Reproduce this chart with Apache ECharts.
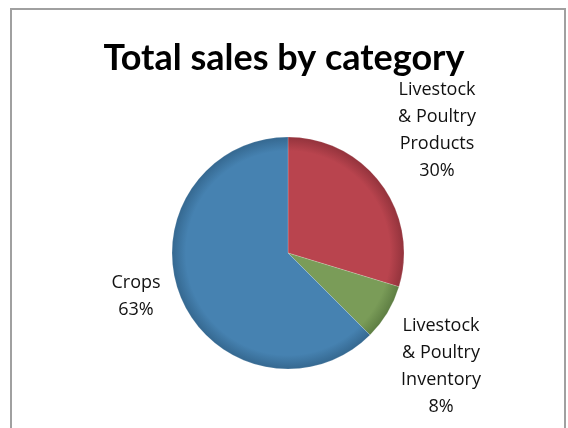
<!DOCTYPE html>
<html>
<head>
<meta charset="utf-8">
<script src="https://cdn.jsdelivr.net/npm/echarts@6/dist/echarts.min.js"></script>
<style>
html,body{margin:0;padding:0;background:#fff;}
#chart{width:568px;height:428px;}
</style>
</head>
<body>
<div id="chart"></div>
<script>
var titleText = 'Total sales by category';
var categories = ['Livestock\n& Poultry\nProducts', 'Livestock\n& Poultry\nInventory', 'Crops'];
var values = [29.7, 7.8, 62.5];
var colors = ['#B9444E', '#7A9C58', '#4682B1'];
var edgeColors = ['#93333C', '#5E7E43', '#356890'];

var chart = echarts.init(document.getElementById('chart'), null, {renderer: 'canvas'});
var cx = 288, cy = 253, R = 116;
var labelPos = [[437, 130], [441, 366], [136, 296]];

function grad(i) {
  return new echarts.graphic.RadialGradient(cx, cy, R, [
    {offset: 0, color: colors[i]},
    {offset: 0.88, color: colors[i]},
    {offset: 1, color: edgeColors[i]}
  ], true);
}

var option = {
  backgroundColor: '#fff',
  animation: false,
  title: {
    text: titleText,
    left: 'center',
    top: 35,
    textStyle: {fontFamily: 'Lato', fontWeight: 'bold', fontSize: 36, color: '#000'}
  },
  graphic: [{
    type: 'rect',
    shape: {x: 11, y: 9, width: 554, height: 430},
    style: {fill: 'none', stroke: '#a0a0a0', lineWidth: 2},
    silent: true
  }],
  series: [{
    type: 'pie',
    center: [cx, cy],
    radius: R,
    startAngle: 90,
    clockwise: true,
    data: categories.map(function (c, i) {
      return {name: c, value: values[i], itemStyle: {color: grad(i)}};
    }),
    itemStyle: {borderColor: 'rgba(255,255,255,0.35)', borderWidth: 0.5},
    label: {
      show: true,
      position: 'outside',
      formatter: function (p) { return p.name + '\n' + Math.round(p.percent) + '%'; },
      fontFamily: 'Open Sans',
      fontSize: 18,
      lineHeight: 27,
      color: '#111',
      align: 'center'
    },
    labelLine: {show: false},
    labelLayout: function (p) {
      var pos = labelPos[p.dataIndex];
      return {x: pos[0], y: pos[1], align: 'center', verticalAlign: 'middle'};
    }
  }]
};
chart.setOption(option);
</script>
</body>
</html>
